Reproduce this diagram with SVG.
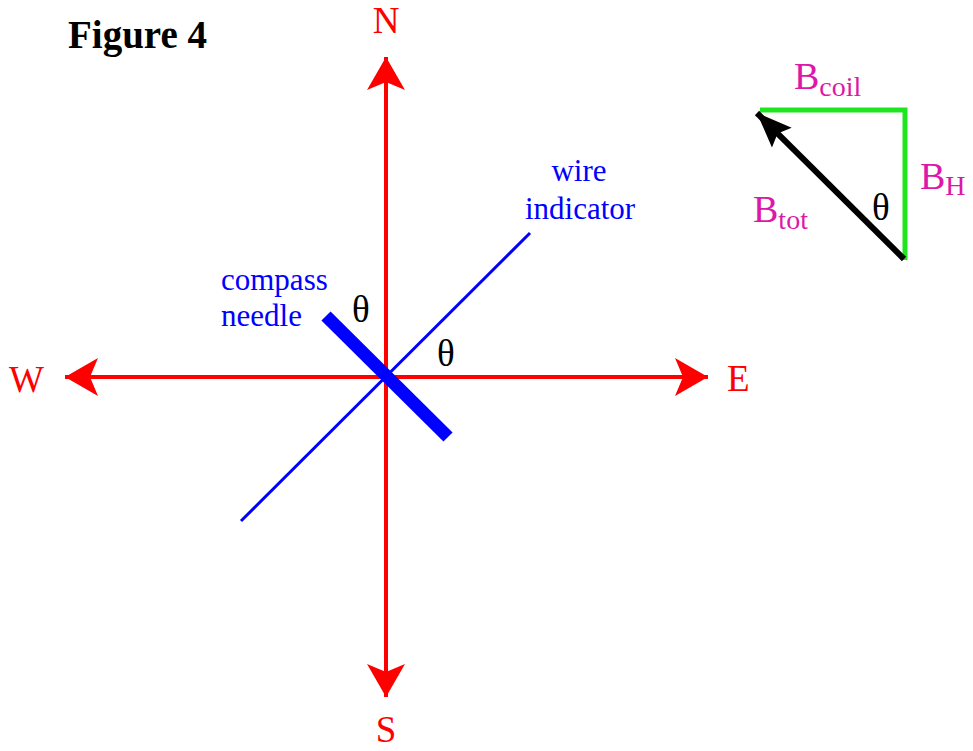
<svg xmlns="http://www.w3.org/2000/svg" width="973" height="751" viewBox="0 0 973 751">
<style>
.t{font-family:"Liberation Serif","Times New Roman",serif}
.red{fill:#ff0000;font-size:37px}
.blue{fill:#0000ff;font-size:31px}
.mag{fill:#dc18a8;font-size:38px}
.sub{font-size:28px}
.th{fill:#000;font-size:37px}
</style>
<defs>
<marker id="ar" markerUnits="userSpaceOnUse" markerWidth="34" markerHeight="40" refX="33" refY="20" orient="auto">
<path d="M0,1 L33,20 L0,39 L8,20 Z" fill="#ff0000"/>
</marker>
<marker id="ab" markerUnits="userSpaceOnUse" markerWidth="36" markerHeight="30" refX="35" refY="15" orient="auto">
<path d="M0,1 L35,15 L0,29 L6,15 Z" fill="#000"/>
</marker>
</defs>
<rect width="973" height="751" fill="#fff"/>
<text class="t" x="68" y="48" font-size="39" font-weight="bold">Figure 4</text>
<g id="connectors">
<line x1="386" y1="377" x2="386" y2="57" stroke="#ff0000" stroke-width="4" marker-end="url(#ar)"/>
<line x1="386" y1="377" x2="386" y2="697" stroke="#ff0000" stroke-width="4" marker-end="url(#ar)"/>
<line x1="386" y1="377" x2="65" y2="377" stroke="#ff0000" stroke-width="4" marker-end="url(#ar)"/>
<line x1="386" y1="377" x2="708" y2="377" stroke="#ff0000" stroke-width="4" marker-end="url(#ar)"/>
</g>
<g id="wire-indicator">
<line x1="241" y1="521" x2="530" y2="233" stroke="#0000ff" stroke-width="3"/>
<text class="t blue" text-anchor="middle" x="579" y="181">wire</text>
<text class="t blue" text-anchor="middle" x="580" y="219">indicator</text>
</g>
<g id="compass-needle">
<line x1="326" y1="316" x2="448" y2="437" stroke="#0000ff" stroke-width="13"/>
<text class="t blue" x="221" y="290">compass</text>
<text class="t blue" x="221" y="326">needle</text>
</g>
<g id="labels">
<text class="t red" text-anchor="middle" x="386" y="33">N</text>
<text class="t red" text-anchor="middle" x="386" y="742">S</text>
<text class="t red" x="9" y="392">W</text>
<text class="t red" x="727" y="391">E</text>
<text class="t th" x="352" y="322">θ</text>
<text class="t th" x="437" y="366">θ</text>
</g>
<g id="vector-triangle">
<polyline points="760,110 905,110 905,260" fill="none" stroke="#1ee61e" stroke-width="5"/>
<line x1="904" y1="259" x2="757" y2="113" stroke="#000" stroke-width="6" marker-end="url(#ab)"/>
<text class="t mag" x="794" y="89">B<tspan class="sub" dy="7">coil</tspan></text>
<text class="t mag" x="920" y="189">B<tspan class="sub" dy="6">H</tspan></text>
<text class="t mag" x="753" y="222">B<tspan class="sub" dy="7">tot</tspan></text>
<text class="t th" x="872" y="220">θ</text>
</g>
</svg>
